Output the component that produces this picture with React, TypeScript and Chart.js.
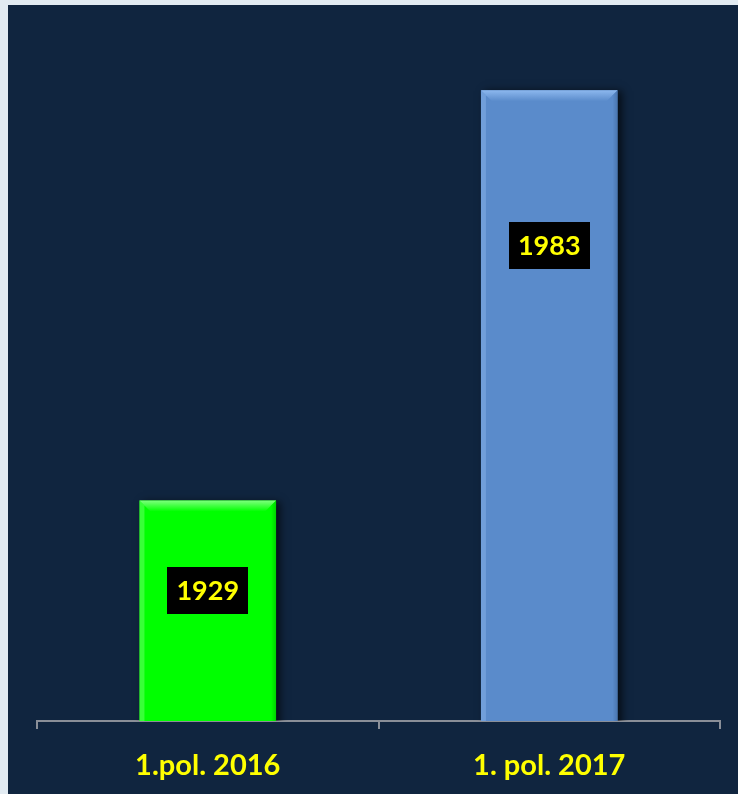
import React, { useEffect, useRef } from "react";
import { Chart, registerables } from "chart.js";

Chart.register(...registerables);

const categories = ["1.pol. 2016", "1. pol. 2017"];
const values = [1929, 1983];
const labelAnchors = [1917.2, 1962.6];
const barColors = ["#00FF00", "#5A8BCB"];
const bevelLight = ["#7CFF7C", "#8DB8EE"];
const bevelDark = ["#00C800", "#4670A8"];
const yMin = 1900;
const yMax = 1990;

const FONT = "Lato, 'Open Sans', sans-serif";

const bevelPlugin = {
  id: "bevel",
  beforeDatasetsDraw(chart: any) {
    const ctx = chart.ctx;
    ctx.save();
    ctx.shadowColor = "rgba(0,0,0,0.65)";
    ctx.shadowBlur = 8;
    ctx.shadowOffsetX = 4;
    ctx.shadowOffsetY = 1;
  },
  afterDatasetsDraw(chart: any) {
    const ctx = chart.ctx;
    ctx.restore();
    const meta = chart.getDatasetMeta(0);
    const area = chart.chartArea;
    meta.data.forEach((bar: any, i: number) => {
      const left = bar.x - bar.width / 2;
      const right = bar.x + bar.width / 2;
      const top = bar.y;
      const bottom = Math.min(bar.base, area.bottom);
      const b = 11;
      const s = 5;
      ctx.save();
      const g = ctx.createLinearGradient(0, top, 0, top + b);
      g.addColorStop(0, bevelLight[i]);
      g.addColorStop(1, barColors[i]);
      ctx.fillStyle = g;
      ctx.beginPath();
      ctx.moveTo(left, top);
      ctx.lineTo(right, top);
      ctx.lineTo(right - b, top + b);
      ctx.lineTo(left + b, top + b);
      ctx.closePath();
      ctx.fill();
      ctx.globalAlpha = 0.45;
      ctx.fillStyle = bevelLight[i];
      ctx.beginPath();
      ctx.moveTo(left, top);
      ctx.lineTo(left + s, top + s);
      ctx.lineTo(left + s, bottom);
      ctx.lineTo(left, bottom);
      ctx.closePath();
      ctx.fill();
      ctx.globalAlpha = 0.8;
      const gr = ctx.createLinearGradient(right - s, 0, right, 0);
      gr.addColorStop(0, barColors[i]);
      gr.addColorStop(1, bevelDark[i]);
      ctx.fillStyle = gr;
      ctx.beginPath();
      ctx.moveTo(right, top);
      ctx.lineTo(right - s, top + s);
      ctx.lineTo(right - s, bottom);
      ctx.lineTo(right, bottom);
      ctx.closePath();
      ctx.fill();
      ctx.restore();
    });
  },
};

const labelPlugin = {
  id: "valueBoxes",
  afterDatasetsDraw(chart: any) {
    const ctx = chart.ctx;
    const meta = chart.getDatasetMeta(0);
    const yScale = chart.scales.y;
    ctx.save();
    ctx.font = `bold 27px ${FONT}`;
    ctx.textAlign = "center";
    ctx.textBaseline = "middle";
    meta.data.forEach((bar: any, i: number) => {
      const text = String(values[i]);
      const cy = yScale.getPixelForValue(labelAnchors[i]);
      const w = ctx.measureText(text).width + 18;
      const h = 47;
      ctx.fillStyle = "#000000";
      ctx.fillRect(Math.round(bar.x - w / 2), Math.round(cy - h / 2), Math.round(w), h);
      ctx.fillStyle = "#FFFF00";
      ctx.fillText(text, bar.x, cy + 1);
    });
    ctx.restore();
  },
};

export default function App() {
  const ref = useRef<HTMLCanvasElement>(null);
  useEffect(() => {
    if (!ref.current) return;
    const chart = new Chart(ref.current, {
      type: "bar",
      data: {
        labels: categories,
        datasets: [
          {
            data: values,
            backgroundColor: barColors,
            borderWidth: 0,
            categoryPercentage: 1,
            barPercentage: 0.4,
          },
        ],
      },
      options: {
        animation: false,
        responsive: false,
        maintainAspectRatio: false,
        layout: { padding: { top: 32, left: 29, right: 18, bottom: 0 } },
        plugins: {
          legend: { display: false },
          tooltip: { enabled: false },
        },
        scales: {
          x: {
            afterFit: (scale: any) => {
              scale.height = 73;
            },
            grid: {
              display: true,
              drawOnChartArea: false,
              drawTicks: true,
              tickLength: 8,
              color: "#8A8F98",
              lineWidth: 2,
              offset: true,
            },
            border: { display: true, color: "#8A8F98", width: 2 },
            ticks: {
              color: "#FFFF00",
              font: { family: FONT, size: 29, weight: "bold" },
              padding: 19,
            },
          },
          y: {
            display: false,
            min: yMin,
            max: yMax,
          },
        },
      },
      plugins: [bevelPlugin, labelPlugin],
    });
    return () => chart.destroy();
  }, []);

  return (
    <div
      style={{
        position: "fixed",
        left: 0,
        top: 0,
        width: 738,
        height: 794,
        background: "#E2EBF2",
        overflow: "hidden",
      }}
    >
      <div
        style={{
          position: "absolute",
          left: 8,
          top: 5,
          width: 730,
          height: 789,
          background: "#10253F",
        }}
      >
        <canvas ref={ref} width={730} height={789} style={{ display: "block" }} />
      </div>
    </div>
  );
}
